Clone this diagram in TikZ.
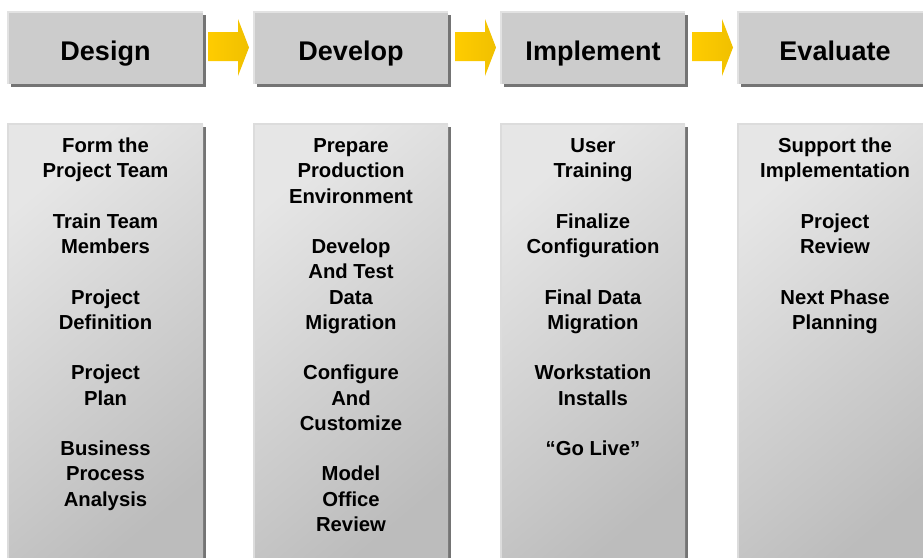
\documentclass[tikz,border=0pt]{standalone}
\usepackage{fontspec}
\setmainfont{Liberation Sans}
\definecolor{hdr}{HTML}{CCCCCC}
\definecolor{hdredge}{HTML}{E2E2E2}
\definecolor{shad}{HTML}{747474}
\definecolor{coltop}{HTML}{E6E6E6}
\definecolor{colbot}{HTML}{BCBCBC}
\definecolor{coledge}{HTML}{DCDCDC}
\definecolor{ylwA}{HTML}{FFCC00}
\definecolor{ylwB}{HTML}{F0C000}
\tikzset{
  hdrtext/.style={font=\fontsize{20.25}{24}\selectfont\bfseries, anchor=base, inner sep=0pt},
  item/.style={font=\fontsize{15.2}{18}\selectfont\bfseries, anchor=base, inner sep=0pt},
  shadowfill/.style={fill=shad},
  hdrfill/.style={fill=hdr},
  edgeline/.style={line width=1.1pt},
  colshade/.style={top color=coltop, bottom color=colbot, shading angle=40},
  arrowshade/.style={left color=ylwA, right color=ylwB}
}
\begin{document}
\begin{tikzpicture}[x=0.75pt,y=-0.75pt]
\useasboundingbox (0,0) rectangle (923,557);
\clip (0,0) rectangle (923,557);
% header boxes and columns
\foreach \xl/\xr in {8/203,254/448,501/685,738/933}{
  \fill[shadowfill] (\xl+3,15) rectangle (\xr+3,87);
  \fill[hdrfill] (\xl,12) rectangle (\xr,84);
  \draw[edgeline,draw=hdredge] (\xl,84) -- (\xl,12) -- (\xr,12);
  \fill[shadowfill] (\xl+3,127) rectangle (\xr+3,570);
  \shade[colshade] (\xl,124) rectangle (\xr,570);
  \draw[edgeline,draw=coledge] (\xl,570) -- (\xl,124) -- (\xr,124);
}
% arrows
\foreach \ax in {208,455,692}{
  \shade[arrowshade] (\ax,32) -- (\ax+30,32) -- (\ax+30,19) -- (\ax+41,47.5)
     -- (\ax+30,76) -- (\ax+30,61) -- (\ax,61) -- cycle;
}
% header texts
\node[hdrtext] (hDesign) at (105.5,60) {Design};
\node[hdrtext] (hDevelop) at (351,60) {Develop};
\node[hdrtext] (hImplement) at (593,60) {Implement};
\node[hdrtext] (hEvaluate) at (835,60) {Evaluate};
% column texts
\foreach \i/\t in {0/Form the,1/Project Team,3/Train Team,4/Members,6/Project,7/Definition,9/Project,10/Plan,12/Business,13/Process,14/Analysis}
  \node[item] (a\i) at (105.5,{152.7+25.25*\i}) {\t};
\foreach \i/\t in {0/Prepare,1/Production,2/Environment,4/Develop,5/And Test,6/Data,7/Migration,9/Configure,10/And,11/Customize,13/Model,14/Office,15/Review}
  \node[item] (b\i) at (351,{152.7+25.25*\i}) {\t};
\foreach \i/\t in {0/User,1/Training,3/Finalize,4/Configuration,6/Final Data,7/Migration,9/Workstation,10/Installs,12/“Go Live”}
  \node[item] (c\i) at (593,{152.7+25.25*\i}) {\t};
\foreach \i/\t in {0/Support the,1/Implementation,3/Project,4/Review,6/Next Phase,7/Planning}
  \node[item] (e\i) at (835,{152.7+25.25*\i}) {\t};
\end{tikzpicture}
\end{document}
